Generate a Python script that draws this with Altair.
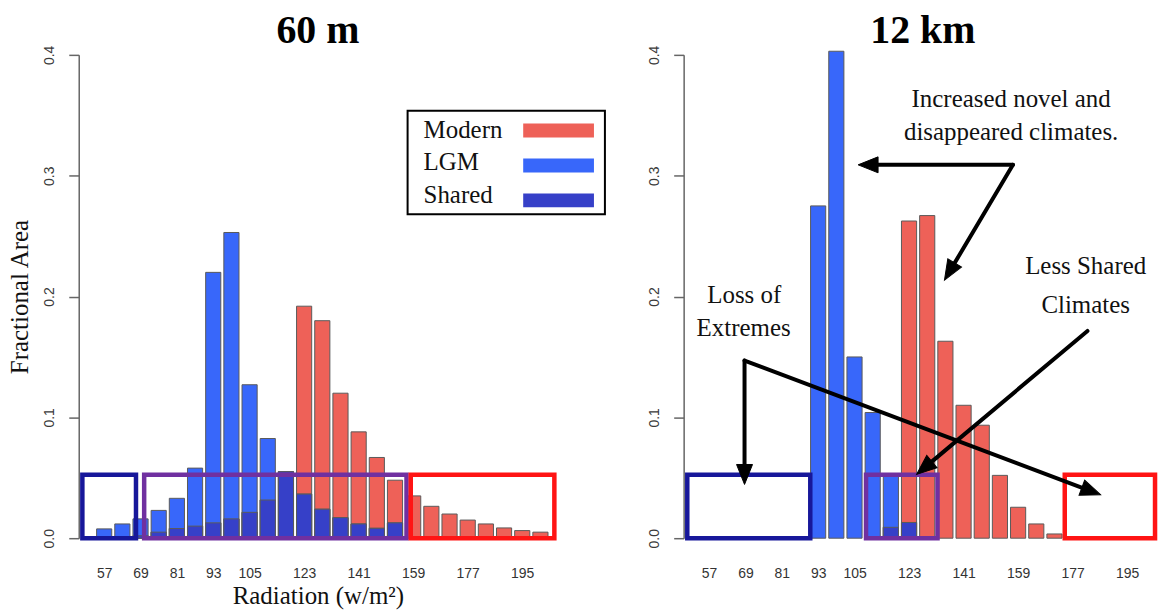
import math
import altair as alt
import pandas as pd

# Radiation bins (w/m^2), 6-unit wide
bins = [57, 63, 69, 75, 81, 87, 93, 99, 105, 111, 117, 123, 129,
        135, 141, 147, 153, 159, 165, 171, 177, 183, 189, 195, 201]

# 60 m resolution: fractional area per bin
modern_60m = [0.0, 0.0, 0.002, 0.005, 0.008, 0.010, 0.0127, 0.016, 0.0214, 0.0316, 0.055, 0.192, 0.180,
              0.120, 0.088, 0.0668, 0.048, 0.035, 0.0264, 0.020, 0.015, 0.0118, 0.0085, 0.0063, 0.005]
lgm_60m = [0.0077, 0.0118, 0.016, 0.023, 0.033, 0.058, 0.220, 0.253, 0.127, 0.0825, 0.055, 0.0365, 0.024,
           0.0170, 0.0118, 0.0082, 0.0127, 0.0, 0.0, 0.0, 0.0, 0.0, 0.0, 0.0, 0.0]
shared_60m = [0.0, 0.0, 0.002, 0.005, 0.008, 0.010, 0.0127, 0.016, 0.0214, 0.0316, 0.055, 0.0365, 0.024,
              0.0170, 0.0118, 0.0082, 0.0127, 0.0, 0.0, 0.0, 0.0, 0.0, 0.0, 0.0, 0.0]

# 12 km resolution: fractional area per bin
modern_12km = [0.0, 0.0, 0.0, 0.0, 0.0, 0.0, 0.0, 0.0, 0.0, 0.0, 0.009, 0.2625, 0.267,
               0.163, 0.110, 0.0935, 0.052, 0.0256, 0.0118, 0.0035, 0.0, 0.0, 0.0, 0.0, 0.0]
lgm_12km = [0.0, 0.0, 0.0, 0.0, 0.0, 0.0, 0.275, 0.403, 0.150, 0.104, 0.052, 0.013, 0.0,
            0.0, 0.0, 0.0, 0.0, 0.0, 0.0, 0.0, 0.0, 0.0, 0.0, 0.0, 0.0]
shared_12km = [0.0, 0.0, 0.0, 0.0, 0.0, 0.0, 0.0, 0.0, 0.0, 0.0, 0.009, 0.013, 0.0,
               0.0, 0.0, 0.0, 0.0, 0.0, 0.0, 0.0, 0.0, 0.0, 0.0, 0.0, 0.0]

tick_labels = [57, 69, 81, 93, 105, 123, 141, 159, 177, 195]

# Highlight boxes (radiation range, top of box in fractional area)
box_colors = ["#17179A", "#7030A0", "#FF1414"]
box_lo_60m = [49.8, 70.2, 158.2]
box_hi_60m = [67.5, 156.8, 205.6]
box_lo_12km = [49.8, 108.8, 174.4]
box_hi_12km = [90.4, 132.4, 204.2]
box_top = 0.0525

legend_labels = ["Modern", "LGM", "Shared"]
COL_MODERN = "#EE6158"
COL_LGM = "#3867FA"
COL_SHARED = "#3640C8"
legend_colors = [COL_MODERN, COL_LGM, COL_SHARED]

# Annotations for the 12 km panel
note_text = ["Increased novel and", "disappeared climates.", "Less Shared", "Climates", "Loss of", "Extremes"]
note_x = [156.7, 156.7, 181.3, 181.3, 68.6, 68.4]
note_y = [0.3637, 0.3365, 0.2252, 0.1930, 0.2010, 0.1740]

arrow_x0 = [157.3, 157.3, 181.9, 68.7, 68.7]
arrow_y0 = [0.309, 0.309, 0.1715, 0.147, 0.147]
arrow_x1 = [106.2, 134.7, 125.5, 68.7, 186.2]
arrow_y1 = [0.309, 0.2136, 0.0528, 0.0445, 0.036]

SERIF = "Liberation Serif"
SANS = "Liberation Sans"
W, H = 480, 485
XDOM = [48.6, 206.5]
YDOM = [0.0, 0.4]
PX_X = W / (XDOM[1] - XDOM[0])
PX_Y = H / (YDOM[1] - YDOM[0])
HALF = 2.5  # half bar width in radiation units

xscale = alt.Scale(domain=XDOM, nice=False, zero=False)
yscale = alt.Scale(domain=YDOM, nice=False, zero=False)


def x_axis(title):
    kw = dict(values=tick_labels, grid=False, domain=False, ticks=False, labelFont=SANS,
              labelFontSize=14, labelColor="#333333", labelPadding=28, labelFlush=False,
              titleFont=SERIF, titleFontSize=25, titleFontWeight="normal", titleColor="#111111",
              titlePadding=4)
    return alt.Axis(title=title, **kw)


def y_axis(title):
    return alt.Axis(title=title, values=[0.0, 0.1, 0.2, 0.3, 0.4], format=".1f", grid=False,
                    domainColor="#666666", domainWidth=1.5, tickColor="#666666", tickWidth=1.5,
                    tickSize=10, labelAngle=270, labelAlign="center", labelBaseline="bottom",
                    labelPadding=12, labelFont=SANS, labelFontSize=14, labelColor="#3a3a3a",
                    labelFlush=False, titleFont=SERIF, titleFontSize=25, titleFontWeight="normal",
                    titleColor="#111111", titlePadding=10)


def bars(df, field, color, xa, ya):
    return alt.Chart(df).transform_filter(f"datum.{field} > 0").transform_calculate(
        lo=f"datum.bin - {HALF}", hi=f"datum.bin + {HALF}"
    ).mark_bar(color=color, stroke="#5a5a5a", strokeWidth=1).encode(
        x=alt.X("lo:Q", scale=xscale, axis=xa),
        x2="hi:Q",
        y=alt.Y(f"{field}:Q", scale=yscale, axis=ya),
        y2=alt.datum(0),
    )


def boxes(lo, hi, xa, ya):
    bdf = pd.DataFrame({"lo": lo, "hi": hi, "top": [box_top] * len(lo), "c": box_colors})
    return alt.Chart(bdf).mark_rect(filled=False, strokeWidth=4.5).encode(
        x=alt.X("lo:Q", scale=xscale, axis=xa),
        x2="hi:Q",
        y=alt.Y("top:Q", scale=yscale, axis=ya),
        y2=alt.datum(0),
        stroke=alt.Stroke("c:N", scale=None),
    )


def panel(modern, lgm, shared, lo, hi, title, xtitle, ytitle, extra):
    df = pd.DataFrame({"bin": bins, "modern": modern, "lgm": lgm, "shared": shared})
    xa, ya = x_axis(xtitle), y_axis(ytitle)
    layers = [
        bars(df, "modern", COL_MODERN, xa, ya),
        bars(df, "lgm", COL_LGM, xa, ya),
        bars(df, "shared", COL_SHARED, xa, ya),
        boxes(lo, hi, xa, ya),
    ] + [e(xa, ya) for e in extra]
    return alt.layer(*layers).properties(
        width=W, height=H,
        title=alt.TitleParams(title, font=SERIF, fontSize=40, fontWeight="bold", color="#000000",
                              anchor="middle", offset=-6),
    )


def legend_layers(xa, ya):
    one = pd.DataFrame({"k": [0]})
    out = [alt.Chart(one).mark_rect(filled=False, stroke="#000000", strokeWidth=2).encode(
        x=alt.value(330), x2=alt.value(528), y=alt.value(56), y2=alt.value(160))]
    for i, (lab, col) in enumerate(zip(legend_labels, legend_colors)):
        out.append(alt.Chart(one).mark_rect(color=col).encode(
            x=alt.value(446), x2=alt.value(517), y=alt.value(69 + i * 35), y2=alt.value(83 + i * 35)))
        out.append(alt.Chart(one).mark_text(text=lab, font=SERIF, fontSize=25, align="left",
                                            baseline="alphabetic", color="#111111").encode(
            x=alt.value(346), y=alt.value(83 + i * 33)))
    return alt.layer(*out)


def notes_layer(xa, ya):
    ndf = pd.DataFrame({"x": note_x, "y": note_y, "t": note_text})
    return alt.Chart(ndf).mark_text(font=SERIF, fontSize=25, color="#111111",
                                    align="center", baseline="middle").encode(
        x=alt.X("x:Q", scale=xscale, axis=xa),
        y=alt.Y("y:Q", scale=yscale, axis=ya),
        text="t:N",
    )


def arrows_layer(xa, ya):
    head_len = 20.0
    rows = []
    for x0, y0, x1, y1 in zip(arrow_x0, arrow_y0, arrow_x1, arrow_y1):
        dxp = (x1 - x0) * PX_X
        dyp = -(y1 - y0) * PX_Y
        L = math.hypot(dxp, dyp)
        back = head_len * 0.8
        xe = x1 - dxp / L * back / PX_X
        ye = y1 + dyp / L * back / PX_Y
        ang = math.degrees(math.atan2(dxp, -dyp)) % 360
        rows.append({"x0": x0, "y0": y0, "xe": xe, "ye": ye, "x1": x1, "y1": y1, "ang": ang})
    adf = pd.DataFrame(rows)
    shafts = alt.Chart(adf).mark_rule(color="#000000", strokeWidth=4, strokeCap="round").encode(
        x=alt.X("x0:Q", scale=xscale, axis=xa), y=alt.Y("y0:Q", scale=yscale, axis=ya),
        x2="xe:Q", y2="ye:Q")
    heads = alt.Chart(adf).mark_point(
        shape="M0,0 L-0.8,2 L0.8,2 Z", size=400, filled=True, fill="#000000",
        stroke="#000000", strokeWidth=1, opacity=1).encode(
        x=alt.X("x1:Q", scale=xscale, axis=xa), y=alt.Y("y1:Q", scale=yscale, axis=ya),
        angle=alt.Angle("ang:Q", scale=None))
    return alt.layer(shafts, heads)


left = panel(modern_60m, lgm_60m, shared_60m, box_lo_60m, box_hi_60m, "60 m",
             "Radiation (w/m²)", "Fractional Area", [legend_layers])
right = panel(modern_12km, lgm_12km, shared_12km, box_lo_12km, box_hi_12km, "12 km",
              None, None, [arrows_layer, notes_layer])

chart = alt.hconcat(left, right, spacing=42).configure_view(stroke=None).properties(
    padding={"left": 8, "top": 10, "right": 0, "bottom": 0},
    background="#ffffff",
)

chart.save("out.html", embed_options={"renderer": "svg", "actions": False})
